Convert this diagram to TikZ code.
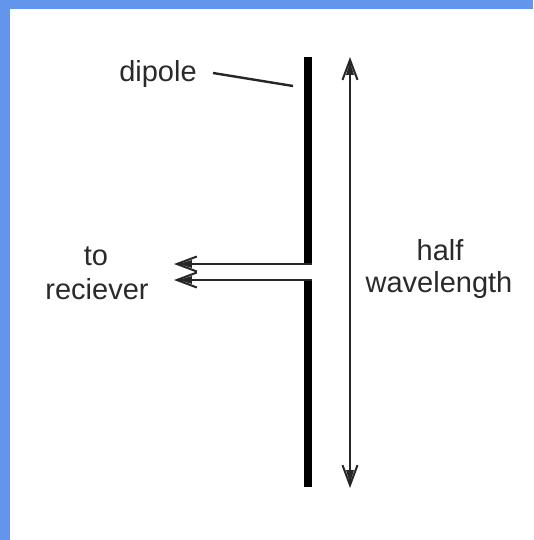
\documentclass[tikz,border=0pt]{standalone}
\usepackage{fontspec}
\setmainfont{Liberation Sans}
\usetikzlibrary{arrows.meta}
\definecolor{frameblue}{HTML}{6495ED}
\definecolor{inkgrey}{HTML}{2A2A2A}
\tikzset{
  label text/.style={font=\fontsize{29}{29}\selectfont, text=inkgrey, inner sep=0pt, anchor=center},
  rod/.style={fill=black, draw=none, inner sep=0pt, minimum width=8pt, anchor=north west},
  headtip/.style={-{Stealth[length=14pt,width=7pt,inset=0pt,sep=-20pt] Straight Barb[length=20pt,width=15pt,line width=2pt]}},
  bothtips/.style={{Straight Barb[length=20pt,width=15pt,line width=2pt] Stealth[length=14pt,width=7pt,inset=0pt,sep=-20pt]}-{Stealth[length=14pt,width=7pt,inset=0pt,sep=-20pt] Straight Barb[length=20pt,width=15pt,line width=2pt]}},
  thin wire/.style={line width=2.8pt, draw=black!85},
  leader/.style={line width=2.4pt, draw=black!85}
}
\begin{document}
\begin{tikzpicture}[x=1pt,y=-1pt]
\useasboundingbox (0,0) rectangle (533,540);
\fill[white] (0,0) rectangle (533,540);
\fill[frameblue] (0,0) rectangle (533,9);
\fill[frameblue] (0,0) rectangle (10,540);
% rods
\node[rod, minimum height=208pt] (upper) at (304,57) {};
\node[rod, minimum height=208pt] (lower) at (304,279) {};
% labels
\node[label text] (dipole) at (158,74) {dipole};
\node[label text] (to) at (96,256) {to};
\node[label text] (reciever) at (97,289) {reciever};
\node[label text] (half) at (440,250) {half};
\node[label text] (wavelength) at (439,285) {wavelength};
% free ends
\coordinate (leadstart) at (213,73);
\coordinate (leadend) at (293,86);
\coordinate (feedA) at (174,264);
\coordinate (feedB) at (174,280);
\coordinate (spanTop) at (350,57);
\coordinate (spanBot) at (350,488);
% connectors
\draw[leader] (leadstart) -- (leadend);
\draw[thin wire, headtip] (upper.east |- feedA) -- (feedA);
\draw[thin wire, headtip] (lower.east |- feedB) -- (feedB);
\draw[thin wire, bothtips] (spanTop) -- (spanBot);
\end{tikzpicture}
\end{document}
